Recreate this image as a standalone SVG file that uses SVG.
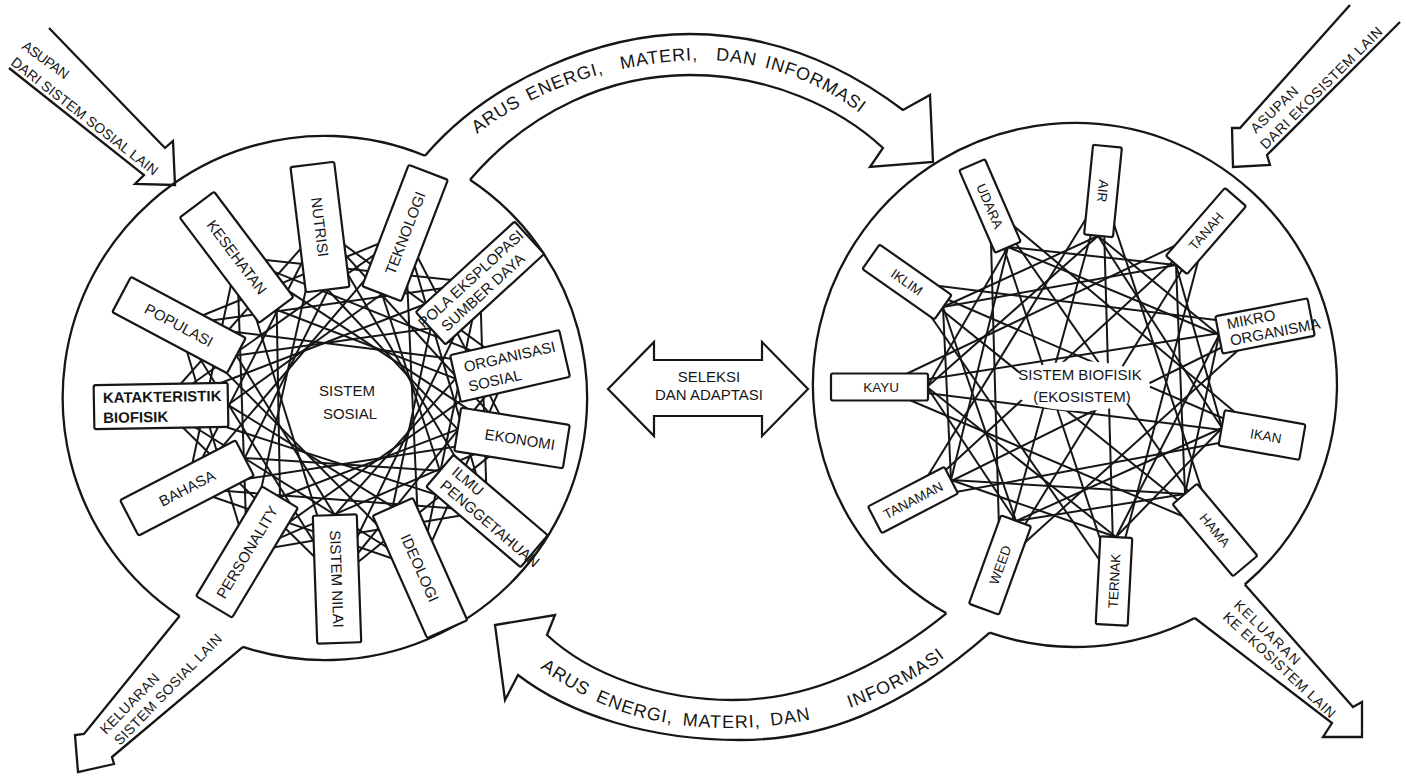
<svg xmlns="http://www.w3.org/2000/svg" width="1406" height="776" viewBox="0 0 1406 776">
<style>
.c{fill:none;stroke:#161616;stroke-width:2.3}
.a{fill:none;stroke:#161616;stroke-width:2.3;stroke-linejoin:miter}
.s{stroke:#161616;stroke-width:2}
.b{fill:#fff;stroke:#161616;stroke-width:2.2}
.t{font-family:"Liberation Sans",Arial,Helvetica,sans-serif;fill:#161616;text-anchor:middle;font-size:15px}
.r{font-size:13.5px}
.st{text-anchor:start}
.f{font-family:"Liberation Sans",Arial,Helvetica,sans-serif;fill:#161616;font-size:14px}
.arc{font-family:"Liberation Sans",Arial,Helvetica,sans-serif;fill:#161616;font-size:18px}
</style>
<defs>
<path id="p-top" d="M477,134 C540,86 620,62 700,60 C775,60 840,90 885,135"/>
<path id="p-bot" d="M540,668 C600,712 660,728 730,728 C815,728 900,700 972,635"/>
</defs>
<rect width="1406" height="776" fill="#fff"/>

<g id="circles">
<path class="c" d="M470,179.8 A262,262 0 0 1 243,646.9"/>
<path class="c" d="M179.6,616 A262,262 0 0 1 425,155.8"/>
<path class="c" d="M1194.8,618.0 A262,262 0 0 1 989.7,632.7"/>
<path class="c" d="M946.4,613.3 A262,262 0 1 1 1244.8,584.5"/>
</g>

<g id="links-sosial" class="s">
<line x1="328" y1="290" x2="457.7" y2="429.4"/><line x1="382" y1="294" x2="439.9" y2="470.8"/><line x1="430.6" y1="328.3" x2="392.7" y2="506.8"/><line x1="455.5" y1="378.6" x2="334.8" y2="515.1"/><line x1="457.7" y1="429.4" x2="280" y2="497.2"/><line x1="439.9" y1="470.8" x2="244.7" y2="458"/><line x1="392.7" y1="506.8" x2="228" y2="404.8"/><line x1="334.8" y1="515.1" x2="236.4" y2="355.5"/><line x1="280" y1="497.2" x2="276.7" y2="309.7"/><line x1="244.7" y1="458" x2="328" y2="290"/><line x1="228" y1="404.8" x2="382" y2="294"/><line x1="236.4" y1="355.5" x2="430.6" y2="328.3"/><line x1="276.7" y1="309.7" x2="455.5" y2="378.6"/>
<line x1="320" y1="227" x2="510" y2="366"/><line x1="405" y1="233" x2="512" y2="438"/><line x1="480" y1="283" x2="487" y2="511"/><line x1="510" y1="366" x2="420" y2="568"/><line x1="512" y1="438" x2="337" y2="579"/><line x1="487" y1="511" x2="247" y2="552"/><line x1="420" y1="568" x2="187" y2="488"/><line x1="337" y1="579" x2="161" y2="406"/><line x1="247" y1="552" x2="179" y2="325"/><line x1="187" y1="488" x2="237" y2="257"/><line x1="161" y1="406" x2="320" y2="227"/><line x1="179" y1="325" x2="405" y2="233"/><line x1="237" y1="257" x2="480" y2="283"/>
<line x1="320" y1="227" x2="512" y2="438"/><line x1="405" y1="233" x2="487" y2="511"/><line x1="480" y1="283" x2="420" y2="568"/><line x1="510" y1="366" x2="337" y2="579"/><line x1="512" y1="438" x2="247" y2="552"/><line x1="487" y1="511" x2="187" y2="488"/><line x1="420" y1="568" x2="161" y2="406"/><line x1="337" y1="579" x2="179" y2="325"/><line x1="247" y1="552" x2="237" y2="257"/><line x1="187" y1="488" x2="320" y2="227"/><line x1="161" y1="406" x2="405" y2="233"/><line x1="179" y1="325" x2="480" y2="283"/><line x1="237" y1="257" x2="510" y2="366"/>
<line x1="320" y1="227" x2="487" y2="511"/><line x1="405" y1="233" x2="420" y2="568"/><line x1="480" y1="283" x2="337" y2="579"/><line x1="510" y1="366" x2="247" y2="552"/><line x1="512" y1="438" x2="187" y2="488"/><line x1="487" y1="511" x2="161" y2="406"/><line x1="420" y1="568" x2="179" y2="325"/><line x1="337" y1="579" x2="237" y2="257"/><line x1="247" y1="552" x2="320" y2="227"/><line x1="187" y1="488" x2="405" y2="233"/><line x1="161" y1="406" x2="480" y2="283"/><line x1="179" y1="325" x2="510" y2="366"/><line x1="237" y1="257" x2="512" y2="438"/>
</g>

<g id="links-biofisik" class="s">
<line x1="1098" y1="236" x2="1219" y2="335"/><line x1="1176" y1="265" x2="1222" y2="428"/><line x1="1219" y1="335" x2="1185" y2="494"/><line x1="1222" y1="428" x2="1116" y2="537"/><line x1="1185" y1="494" x2="1016" y2="521"/><line x1="1116" y1="537" x2="951" y2="480"/><line x1="1016" y1="521" x2="927" y2="387"/><line x1="951" y1="480" x2="943" y2="307"/><line x1="927" y1="387" x2="1008" y2="247"/><line x1="943" y1="307" x2="1098" y2="236"/><line x1="1008" y1="247" x2="1176" y2="265"/>
<line x1="1098" y1="236" x2="1222" y2="428"/><line x1="1176" y1="265" x2="1185" y2="494"/><line x1="1219" y1="335" x2="1116" y2="537"/><line x1="1222" y1="428" x2="1016" y2="521"/><line x1="1185" y1="494" x2="951" y2="480"/><line x1="1116" y1="537" x2="927" y2="387"/><line x1="1016" y1="521" x2="943" y2="307"/><line x1="951" y1="480" x2="1008" y2="247"/><line x1="927" y1="387" x2="1098" y2="236"/><line x1="943" y1="307" x2="1176" y2="265"/><line x1="1008" y1="247" x2="1219" y2="335"/>
<line x1="1103" y1="191" x2="1215" y2="530"/><line x1="1206" y1="231" x2="1114" y2="581"/><line x1="1265" y1="326" x2="1000" y2="565"/><line x1="1262" y1="435" x2="913" y2="500"/><line x1="1215" y1="530" x2="879" y2="387"/><line x1="1114" y1="581" x2="907" y2="282"/><line x1="1000" y1="565" x2="990" y2="206"/><line x1="913" y1="500" x2="1103" y2="191"/><line x1="879" y1="387" x2="1206" y2="231"/><line x1="907" y1="282" x2="1265" y2="326"/><line x1="990" y1="206" x2="1262" y2="435"/>
<line x1="1103" y1="191" x2="1114" y2="581"/><line x1="1206" y1="231" x2="1000" y2="565"/><line x1="1265" y1="326" x2="913" y2="500"/><line x1="1262" y1="435" x2="879" y2="387"/><line x1="1215" y1="530" x2="907" y2="282"/><line x1="1114" y1="581" x2="990" y2="206"/><line x1="1000" y1="565" x2="1103" y2="191"/><line x1="913" y1="500" x2="1206" y2="231"/><line x1="879" y1="387" x2="1265" y2="326"/><line x1="907" y1="282" x2="1262" y2="435"/><line x1="990" y1="206" x2="1215" y2="530"/>
</g>

<g id="flows">
<path class="a" d="M425,155.8 C490,80 600,34 690,34 C780,34 850,70 903,110 L930,95 L933,162 L870,167 L883,148 C840,108 770,75 690,75 C610,75 530,110 470,179.8"/>
<text class="arc" letter-spacing="0.8" word-spacing="3"><textPath href="#p-top">ARUS ENERGI,&#160; MATERI,&#160; DAN INFORMASI</textPath></text>
<path class="a" d="M946.4,613.3 C870,675 800,700 733,700 C660,700 590,675 547,635 L555,615 L495,625 L505,700 L518,675 C570,715 650,740 740,740 C820,740 900,712 989.7,632.7"/>
<text class="arc" letter-spacing="1" word-spacing="4"><textPath href="#p-bot">ARUS ENERGI, MATERI, DAN&#160;&#160;&#160; INFORMASI</textPath></text>
<path class="a" d="M49,28 L165,148 L173,141 L175,185 L135,184 L144,175 L9,68"/>
<text class="f" font-size="13" transform="translate(21,48) rotate(36)" textLength="54">ASUPAN</text>
<text class="f" transform="translate(10,64) rotate(38)" textLength="182">DARI SISTEM SOSIAL LAIN</text>
<path class="a" d="M1350,5 L1240,128 L1232,128 L1233,167 L1270,165 L1267,155 L1400,22"/>
<text class="f" transform="translate(1256,134) rotate(-44)" textLength="60">ASUPAN</text>
<text class="f" transform="translate(1266,150) rotate(-45)" textLength="166">DARI EKOSISTEM LAIN</text>
<path class="a" d="M179.6,616 L84,734 L75,735 L78,772 L114,764 L112,757 L243,646.9"/>
<text class="f" transform="translate(106,735) rotate(-46)" textLength="78">KELUARAN</text>
<text class="f" transform="translate(120,746) rotate(-46)" textLength="148">SISTEM SOSIAL LAIN</text>
<path class="a" d="M1244.8,584.5 L1353,707 L1362,702 L1362,737 L1323,737 L1332,723 L1194.8,618.0"/>
<text class="f" transform="translate(1233,606) rotate(44)" textLength="86">KELUARAN</text>
<text class="f" transform="translate(1222,618) rotate(43)" textLength="148">KE EKOSISTEM LAIN</text>
</g>

<g id="n-seleksi">
<polygon class="b" points="608,389 654,342 654,360 762,360 762,342 808,389 762,436 762,416 654,416 654,436"/>
<text class="t" font-size="12" x="709" y="382">SELEKSI</text>
<text class="t" font-size="12" x="709" y="400">DAN ADAPTASI</text>
</g>

<g id="n-sistem-sosial">
<text class="t" x="347" y="396">SISTEM</text>
<text class="t" x="350" y="419">SOSIAL</text>
</g>
<g id="n-sistem-biofisik">
<ellipse cx="1080" cy="386" rx="70" ry="25" fill="#fff"/>
<text class="t" font-size="14" x="1080" y="380">SISTEM BIOFISIK</text>
<text class="t" font-size="14" x="1082" y="402">(EKOSISTEM)</text>
</g>

<g id="n-nutrisi" transform="translate(320,227) rotate(83)"><rect class="b" x="-63" y="-22" width="126" height="44" rx="2"/><text class="t" x="0" y="5.5">NUTRISI</text></g>
<g id="n-teknologi" transform="translate(405,233) rotate(-69)"><rect class="b" x="-65" y="-21" width="130" height="42" rx="2"/><text class="t" x="0" y="5.5">TEKNOLOGI</text></g>
<g id="n-pola" transform="translate(480,283) rotate(-42.5)"><rect class="b" x="-67" y="-22" width="134" height="44" rx="2"/><text class="t" font-size="11.5" x="-4" y="-4">POLA EKSPLOPASI</text><text class="t" font-size="11.5" x="-4" y="14">SUMBER DAYA</text></g>
<g id="n-organisasi" transform="translate(510,366) rotate(-13)"><rect class="b" x="-56" y="-24" width="112" height="48" rx="2"/><text class="t st" font-size="14" x="-45" y="-4">ORGANISASI</text><text class="t st" font-size="14" x="-45" y="16">SOSIAL</text></g>
<g id="n-ekonomi" transform="translate(512,438) rotate(9)"><rect class="b" x="-55" y="-22" width="110" height="44" rx="2"/><text class="t" x="8" y="5.5">EKONOMI</text></g>
<g id="n-ilmu" transform="translate(487,511) rotate(40.5)"><rect class="b" x="-62" y="-21" width="124" height="42" rx="2"/><text class="t st" font-size="12.5" x="-52" y="-5">ILMU</text><text class="t st" font-size="12.5" x="-52" y="13">PENGGETAHUAN</text></g>
<g id="n-ideologi" transform="translate(420,568) rotate(66)"><rect class="b" x="-67" y="-22" width="134" height="44" rx="2"/><text class="t" x="0" y="5.5">IDEOLOGI</text></g>
<g id="n-sistem-nilai" transform="translate(337,579) rotate(88)"><rect class="b" x="-64" y="-22" width="128" height="44" rx="2"/><text class="t" x="0" y="5.5">SISTEM NILAI</text></g>
<g id="n-personality" transform="translate(247,552) rotate(-59)"><rect class="b" x="-64" y="-21" width="128" height="42" rx="2"/><text class="t" x="0" y="5.5">PERSONALITY</text></g>
<g id="n-bahasa" transform="translate(187,488) rotate(-27.5)"><rect class="b" x="-65" y="-20" width="130" height="40" rx="2"/><text class="t" x="0" y="5.5">BAHASA</text></g>
<g id="n-katakteristik" transform="translate(161,406) rotate(-1)"><rect class="b" x="-67" y="-22" width="134" height="44" rx="2"/><text class="t st" font-size="13" font-weight="bold" x="-58" y="-4">KATAKTERISTIK</text><text class="t st" font-size="13" font-weight="bold" x="-58" y="16">BIOFISIK</text></g>
<g id="n-populasi" transform="translate(179,325) rotate(28)"><rect class="b" x="-65" y="-20" width="130" height="40" rx="2"/><text class="t" x="0" y="5.5">POPULASI</text></g>
<g id="n-kesehatan" transform="translate(237,257) rotate(53)"><rect class="b" x="-66" y="-21" width="132" height="43" rx="2"/><text class="t" x="0" y="5.5">KESEHATAN</text></g>

<g id="n-air" transform="translate(1103,191) rotate(95.7)"><rect class="b" x="-45" y="-14.5" width="90" height="29" rx="2"/><text class="t r" x="0" y="5">AIR</text></g>
<g id="n-tanah" transform="translate(1206,231) rotate(-49)"><rect class="b" x="-45" y="-14" width="90" height="28" rx="2"/><text class="t r" x="0" y="5">TANAH</text></g>
<g id="n-mikro" transform="translate(1265,326) rotate(-11)"><rect class="b" x="-47" y="-19" width="94" height="38" rx="2"/><text class="t st" font-size="12" x="-37" y="-4">MIKRO</text><text class="t st" font-size="12" x="-37" y="13">ORGANISMA</text></g>
<g id="n-ikan" transform="translate(1262,435) rotate(10)"><rect class="b" x="-41" y="-18" width="82" height="36" rx="2"/><text class="t r" x="4" y="5">IKAN</text></g>
<g id="n-hama" transform="translate(1215,530) rotate(50)"><rect class="b" x="-47" y="-16" width="94" height="32" rx="2"/><text class="t r" x="0" y="5">HAMA</text></g>
<g id="n-ternak" transform="translate(1114,581) rotate(-87)"><rect class="b" x="-44" y="-16" width="88" height="32" rx="2"/><text class="t r" x="0" y="5">TERNAK</text></g>
<g id="n-weed" transform="translate(1000,565) rotate(-70)"><rect class="b" x="-47" y="-16" width="94" height="32" rx="2"/><text class="t r" x="0" y="5">WEED</text></g>
<g id="n-tanaman" transform="translate(913,500) rotate(-27.5)"><rect class="b" x="-43" y="-15" width="86" height="30" rx="2"/><text class="t r" x="0" y="5">TANAMAN</text></g>
<g id="n-kayu" transform="translate(879,387)"><rect class="b" x="-48" y="-13.5" width="97" height="27" rx="2"/><text class="t r" x="2" y="5">KAYU</text></g>
<g id="n-iklim" transform="translate(907,282) rotate(35)"><rect class="b" x="-44" y="-15" width="88" height="30" rx="2"/><text class="t r" x="0" y="5">IKLIM</text></g>
<g id="n-udara" transform="translate(990,206) rotate(66.5)"><rect class="b" x="-45" y="-14" width="90" height="28" rx="2"/><text class="t r" x="0" y="5">UDARA</text></g>
</svg>
